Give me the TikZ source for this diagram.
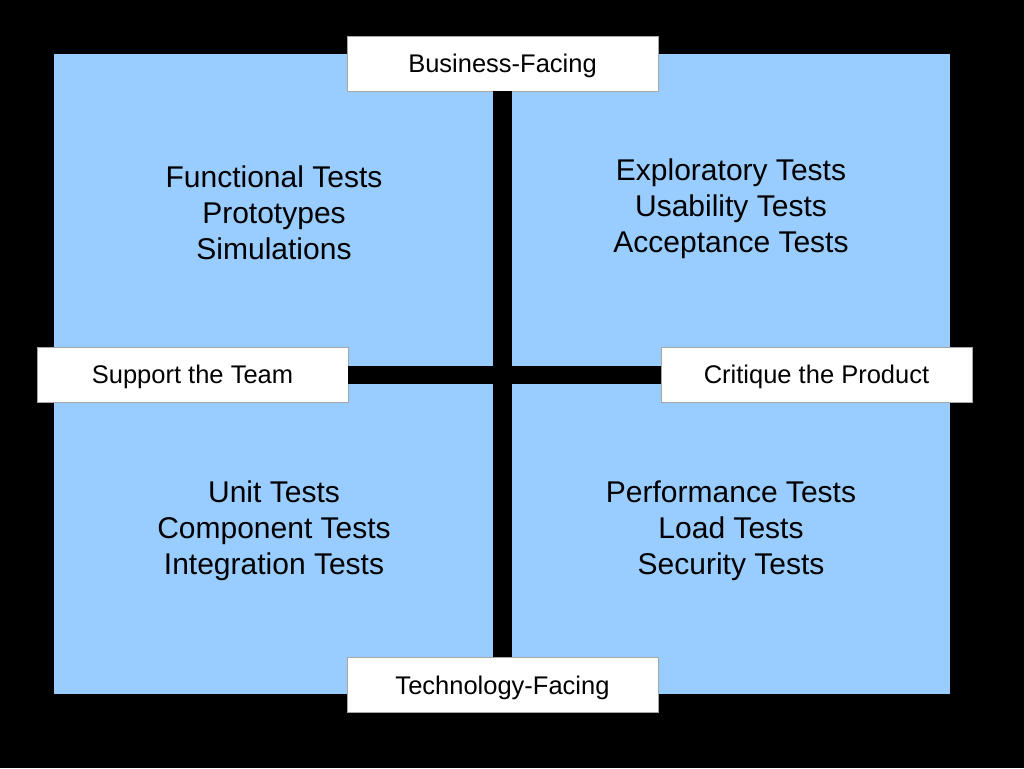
\documentclass[tikz,border=0pt]{standalone}
\usepackage{fontspec}
\setmainfont{Liberation Sans}
\usetikzlibrary{positioning}
\definecolor{quadblue}{RGB}{153,204,255}

\begin{document}
\begin{tikzpicture}[x=1pt, y=-1pt,
        quadtext/.style={align=center, font=\fontsize{30}{36}\selectfont},
        axislabel/.style={draw=gray!70, fill=white, line width=0.6pt, minimum width=311pt, minimum height=55pt, inner sep=0pt, text depth=0pt, font=\fontsize{25.5}{30}\selectfont}]
        \useasboundingbox (0, 0) rectangle (1024, 768);
        \fill[black] (0, 0) rectangle (1024, 768);
        \fill[quadblue] (54, 54) rectangle (950, 694);

        \node[axislabel] (business) at (502.5, 63.5) {Business-Facing};
        \node[axislabel] (technology) at (502.5, 685) {Technology-Facing};
        \node[axislabel] (support) at (192.5, 374.5) {Support the Team};
        \node[axislabel] (critique) at (816.5, 374.5) {Critique the Product};

        \draw[line width=19pt] (business) -- (technology);
        \draw[line width=18pt] (support) -- (critique);

        \node[quadtext] (q1) at (274, 213) {Functional Tests\\Prototypes\\Simulations};
        \node[quadtext] (q2) at (731, 209) {Exploratory Tests\\Usability Tests\\Acceptance Tests};
        \node[quadtext] (q3) at (274, 531) {Unit Tests\\Component Tests\\Integration Tests};
        \node[quadtext] (q4) at (731, 531) {Performance Tests\\Load Tests\\Security Tests};

      \end{tikzpicture}
\end{document}
